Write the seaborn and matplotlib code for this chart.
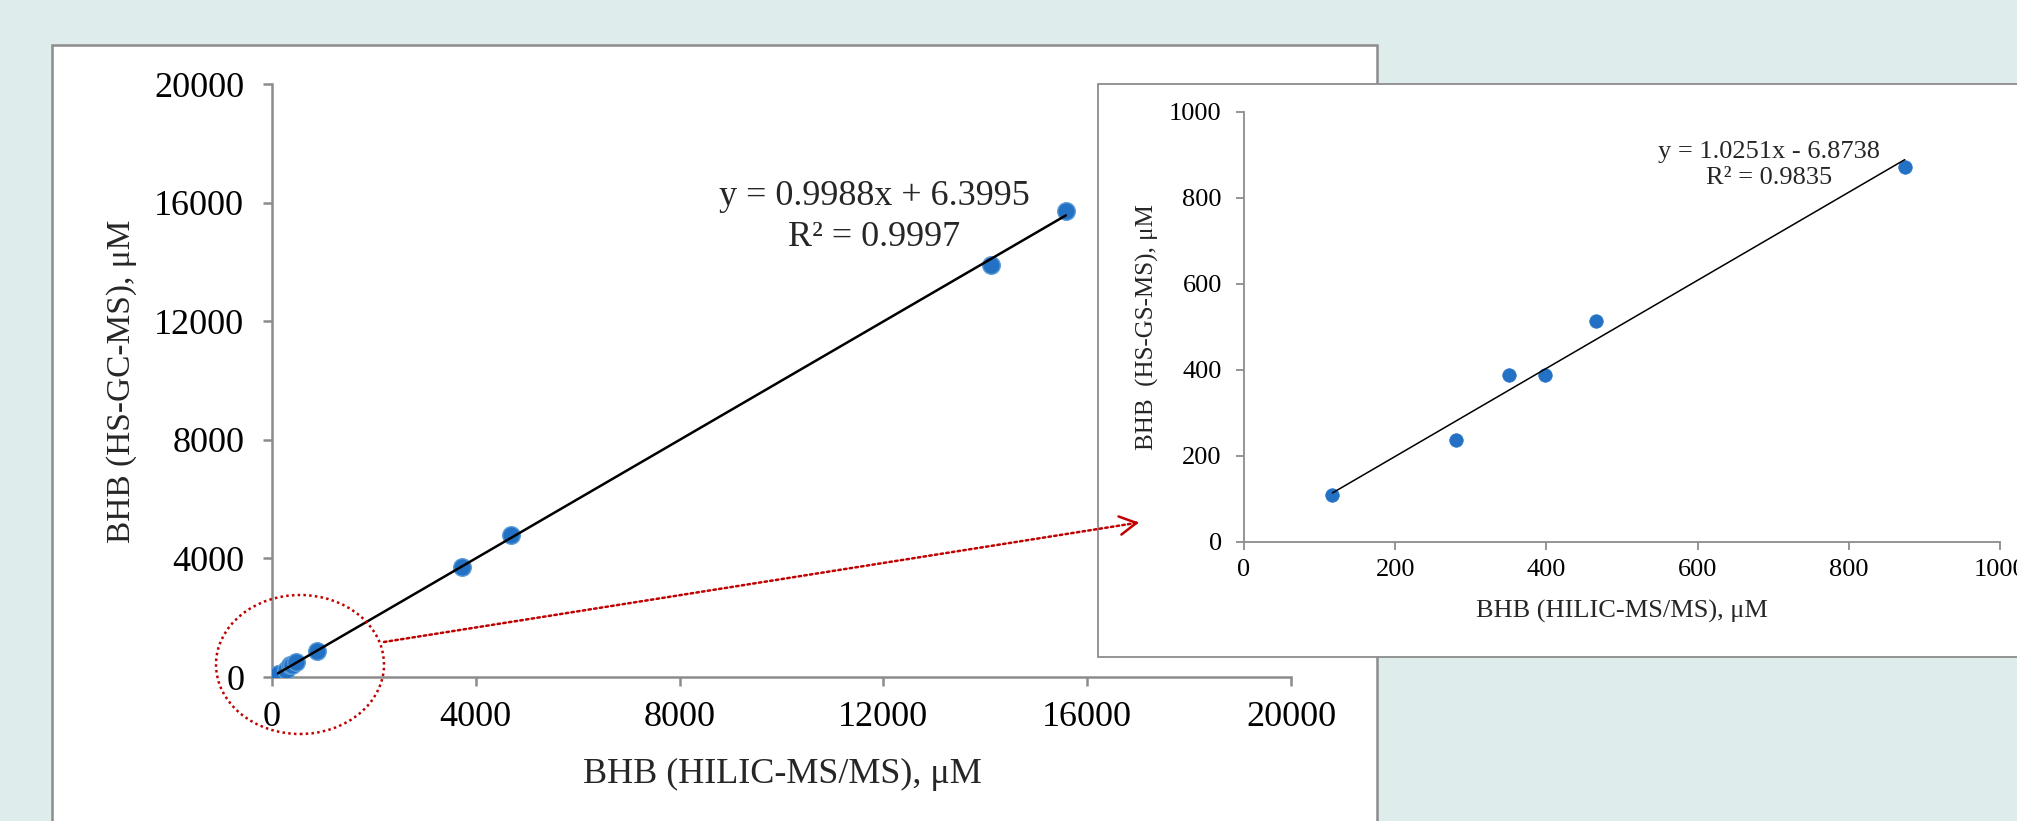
import matplotlib
matplotlib.use("Agg")
import matplotlib.pyplot as plt
import seaborn as sns
import numpy as np
import pandas as pd
from matplotlib.patches import Rectangle, Ellipse, FancyArrowPatch

# valori (BHB, uM)
hilic_ms = [117, 280, 350, 398, 465, 874, 3720, 4700, 14110, 15580]
hs_gc_ms = [108, 236, 388, 388, 514, 872, 3710, 4790, 13880, 15730]
n_low = 6  # i primi 6 campioni sono nel riquadro ingrandito

main_ticks = [0, 4000, 8000, 12000, 16000, 20000]
inset_ticks = [0, 200, 400, 600, 800, 1000]

# regressioni riportate sul grafico: pendenza, intercetta
fit_main = (0.9988, 6.3995)
fit_inset = (1.0251, -6.8738)
eq_main = "y = 0.9988x + 6.3995\nR² = 0.9997"
eq_inset = "y = 1.0251x - 6.8738\nR² = 0.9835"

df = pd.DataFrame({"hilic": hilic_ms, "hsgc": hs_gc_ms})
df_low = df.iloc[:n_low]

sns.set_theme(style="white")
plt.rcParams['font.family'] = ['Liberation Serif', 'DejaVu Serif']

W, H = 2017, 821
BG = '#DEECEC'
GRAY = '#8C8C8C'
BLUE = '#2371C5'
RED = '#C00000'

fig = plt.figure(figsize=(W / 100, H / 100), dpi=100, facecolor=BG)


def px(x, y):
    # pixel (dall'alto) -> frazione della figura
    return x / W, 1 - y / H


# riquadri bianchi
fig.add_artist(Rectangle(px(52, 900), (1377 - 52) / W, (900 - 45) / H,
                         transform=fig.transFigure, facecolor='white',
                         edgecolor=GRAY, lw=1.8, zorder=1))
fig.add_artist(Rectangle(px(1098, 657), 0.5, (657 - 84) / H,
                         transform=fig.transFigure, facecolor='white',
                         edgecolor=GRAY, lw=1.3, zorder=3))


def style_axes(ax, lw, tlen, padx, pady, size):
    ax.set_facecolor('none')
    ax.grid(False)
    for s in ['top', 'right']:
        ax.spines[s].set_visible(False)
    for s in ['left', 'bottom']:
        ax.spines[s].set_color(GRAY)
        ax.spines[s].set_linewidth(lw)
    ax.tick_params(direction='out', length=tlen, width=lw, color=GRAY,
                   labelsize=size, labelcolor='black', bottom=True, left=True)
    ax.tick_params(axis='x', pad=padx)
    ax.tick_params(axis='y', pad=pady)


# grafico principale
ax = fig.add_axes([272 / W, 1 - 677 / H, (1291 - 272) / W, (677 - 84) / H])
ax.set_zorder(2)
style_axes(ax, 1.8, 6.5, 11, 13.5, 26)
sns.scatterplot(data=df, x="hilic", y="hsgc", ax=ax, s=160, color=BLUE,
                edgecolor='#5B9BD5', linewidth=1, zorder=3)
xs = np.array([df.hilic.min(), df.hilic.max()])
ax.plot(xs, fit_main[0] * xs + fit_main[1], color='black', lw=1.8, zorder=4)
ax.set_xlim(0, 20000)
ax.set_ylim(0, 20000)
ax.set_xticks(main_ticks)
ax.set_yticks(main_ticks)
ax.set_xlabel('BHB (HILIC-MS/MS), μM', fontsize=26, va='center')
ax.set_ylabel('BHB (HS-GC-MS), μM', fontsize=24, va='center')
ax.xaxis.set_label_coords(0.501, (677 - 774) / 593)
ax.yaxis.set_label_coords((122 - 272) / 1019, 0.498)
ax.text(0.5908, 0.7757, eq_main, transform=ax.transAxes, ha='center',
        va='center', fontsize=26, linespacing=1.3)

# riquadro ingrandito
ax2 = fig.add_axes([1244 / W, 1 - 541.5 / H, (2000 - 1244) / W, (541.5 - 112) / H])
ax2.set_zorder(4)
style_axes(ax2, 1.3, 6, 6.5, 10, 19)
sns.scatterplot(data=df_low, x="hilic", y="hsgc", ax=ax2, s=95, color=BLUE,
                edgecolor=BLUE, linewidth=0.5, zorder=3)
xs2 = np.array([df_low.hilic.min(), df_low.hilic.max()])
ax2.plot(xs2, fit_inset[0] * xs2 + fit_inset[1], color='black', lw=1.1, zorder=4)
ax2.set_xlim(0, 1000)
ax2.set_ylim(0, 1000)
ax2.set_xticks(inset_ticks)
ax2.set_yticks(inset_ticks)
ax2.set_xlabel('BHB (HILIC-MS/MS), μM', fontsize=19, va='center')
ax2.set_ylabel('BHB  (HS-GS-MS), μM', fontsize=18, va='center')
ax2.xaxis.set_label_coords(0.5, (541.5 - 611.5) / 429.5)
ax2.yaxis.set_label_coords((1147.4 - 1244) / 756, 0.4994)
ax2.text(0.6944, 0.8773, eq_inset, transform=ax2.transAxes, ha='center',
         va='center', fontsize=19, linespacing=1.25)

# ellisse e freccia rossa tratteggiata
fig.add_artist(Ellipse(px(300, 664.5), 168 / W, 139 / H, transform=fig.transFigure,
                       fill=False, edgecolor=RED, ls=(0, (1, 1.3)), lw=1.8, zorder=5))
p0 = np.array([384, 642.0])
p1 = np.array([1139, 522.5])
fig.add_artist(FancyArrowPatch(px(*p0), px(*p1), transform=fig.transFigure,
                               arrowstyle='-', ls=(0, (1, 1.3)), color=RED, lw=1.8,
                               shrinkA=0, shrinkB=0, zorder=5))
u = (p1 - p0) / np.linalg.norm(p1 - p0)
fig.add_artist(FancyArrowPatch(px(*(p1 - 3 * u)), px(*p1), transform=fig.transFigure,
                               arrowstyle='->,head_length=0.4,head_width=0.22',
                               mutation_scale=30, color=RED, lw=1.8,
                               shrinkA=0, shrinkB=0, zorder=5))

fig.savefig('out.png', dpi=100, facecolor=fig.get_facecolor())
